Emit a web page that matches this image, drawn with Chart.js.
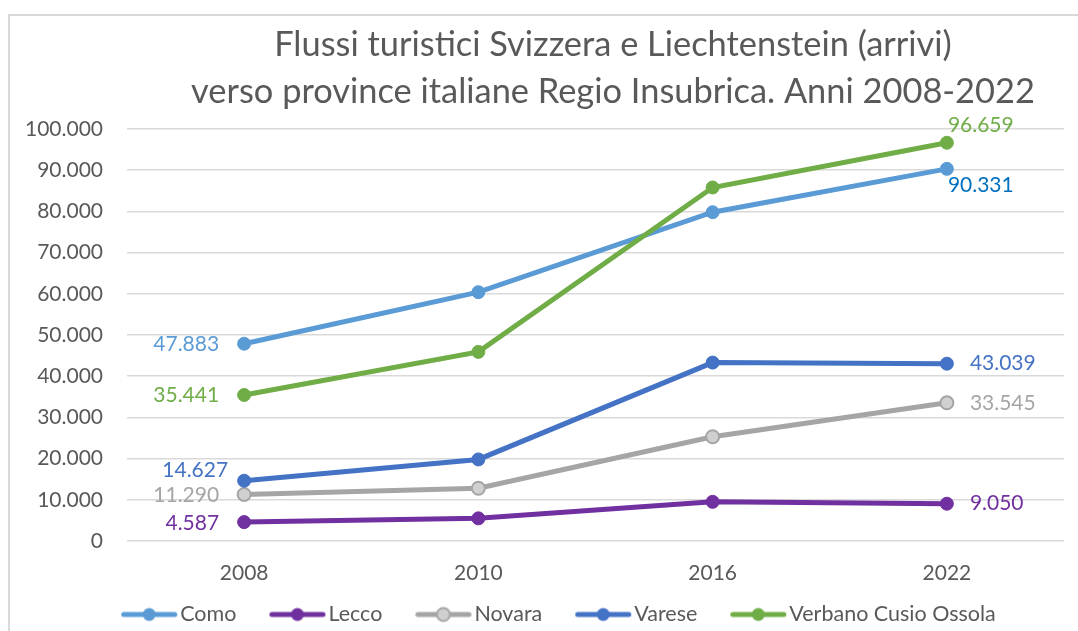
<!DOCTYPE html>
<html>
<head>
<meta charset="utf-8">
<script src="https://cdn.jsdelivr.net/npm/chart.js@4/dist/chart.umd.min.js"></script>
<style>
  html, body { margin: 0; padding: 0; background: #ffffff; }
  #wrap { position: relative; width: 1078px; height: 631px; overflow: hidden; }
  #frame { position: absolute; left: 8px; top: 14px; width: 1200px; height: 800px;
           border-left: 2px solid #D9D9D9; border-top: 2px solid #D9D9D9; }
  canvas { position: absolute; left: 0; top: 0; }
</style>
</head>
<body>
<div id="wrap">
  <div id="frame"></div>
  <canvas id="c" width="1078" height="631"></canvas>
</div>
<script>
// ---- Data ----
const categories = ['2008', '2010', '2016', '2022'];
const seriesNames = ['Como', 'Lecco', 'Novara', 'Varese', 'Verbano Cusio Ossola'];
const como    = [47883, 60400, 79800, 90331];
const lecco   = [4587, 5500, 9500, 9050];
const novara  = [11290, 12800, 25300, 33545];
const varese  = [14627, 19800, 43300, 43039];
const verbano = [35441, 45900, 85800, 96659];
const yMin = 0, yMax = 100000, yStep = 10000;
const titleLines = ['Flussi turistici Svizzera e Liechtenstein (arrivi)',
                    'verso province italiane Regio Insubrica. Anni 2008-2022'];

// ---- Styles ----
const FONT = 'Lato, "Open Sans", sans-serif';
const TEXT = '#595959';
const colors = ['#5B9BD5', '#7030A0', '#A5A5A5', '#4472C4', '#70AD47'];
const pointFills = ['#5B9BD5', '#7030A0', '#D0D0D0', '#4472C4', '#70AD47'];

function fmt(v) {
  return String(Math.round(v)).replace(/\B(?=(\d{3})+(?!\d))/g, '.');
}

// label placement (style only): dataset index -> list of [pointIndex, dx, dy, align, color]
const labelStyle = {
  0: [[0, -25, 1, 'right', '#5B9BD5'], [3, 1, 16, 'left', '#0070C0']],
  1: [[0, -25, 1, 'right', '#7030A0'], [3, 23, 0, 'left', '#7030A0']],
  2: [[0, -25, 1, 'right', '#A5A5A5'], [3, 23, 0, 'left', '#A5A5A5']],
  3: [[0, -16, -11, 'right', '#4472C4'], [3, 23, 0, 'left', '#4472C4']],
  4: [[0, -25, 0, 'right', '#70AD47'], [3, 1, -18, 'left', '#70AD47']]
};

function legendIcon(color, fill, border) {
  const cv = document.createElement('canvas');
  cv.width = 62; cv.height = 18;
  const g = cv.getContext('2d');
  g.strokeStyle = color; g.lineWidth = 5; g.lineCap = 'round';
  g.beginPath(); g.moveTo(5.5, 9); g.lineTo(56.5, 9); g.stroke();
  g.beginPath(); g.arc(31, 9, 6.5, 0, Math.PI * 2);
  g.fillStyle = fill; g.fill();
  if (border) { g.lineWidth = 2; g.strokeStyle = color; g.stroke(); }
  return cv;
}

const dataArrays = [como, lecco, novara, varese, verbano];
const datasets = dataArrays.map((arr, i) => ({
  label: seriesNames[i],
  data: arr,
  borderColor: colors[i],
  backgroundColor: pointFills[i],
  pointBackgroundColor: pointFills[i],
  pointBorderColor: colors[i],
  pointBorderWidth: i === 2 ? 2 : 1,
  borderWidth: 5,
  pointRadius: 6.5,
  pointHoverRadius: 6.5,
  tension: 0,
  order: 5 - i
}));

const dataLabels = {
  id: 'dataLabels',
  afterDatasetsDraw(chart) {
    const ctx = chart.ctx;
    ctx.save();
    ctx.font = '21px ' + FONT;
    ctx.textBaseline = 'middle';
    Object.keys(labelStyle).forEach(di => {
      const meta = chart.getDatasetMeta(+di);
      labelStyle[di].forEach(([pi, dx, dy, align, col]) => {
        const pt = meta.data[pi];
        ctx.fillStyle = col;
        ctx.textAlign = align;
        ctx.fillText(fmt(chart.data.datasets[di].data[pi]), pt.x + dx, pt.y + dy);
      });
    });
    ctx.restore();
  }
};

const LEGEND_PAD = 40.75;
const placeBlocks = {
  id: 'placeBlocks',
  afterLayout(chart) {
    const t = chart.titleBlock;
    if (t) { t.left = 148; t.right = 1078; }
    const l = chart.legend;
    if (l) { l.left = 46.75; l.right = 1078; l.top = 563; l.bottom = 631; }
  }
};

new Chart(document.getElementById('c'), {
  type: 'line',
  data: { labels: categories, datasets },
  plugins: [dataLabels, placeBlocks],
  options: {
    responsive: false,
    animation: false,
    layout: { padding: { left: 0, right: 14, top: 0, bottom: 0 } },
    plugins: {
      tooltip: { enabled: false },
      title: {
        display: true,
        text: titleLines,
        color: TEXT,
        font: { family: FONT, size: 34.4, weight: 'normal', lineHeight: '47px' },
        padding: { top: 21.8, bottom: 13.2 }
      },
      legend: {
        display: true,
        position: 'bottom',
        maxHeight: 40,
        labels: {
          color: TEXT,
          font: { family: FONT, size: 21.5 },
          usePointStyle: true,
          pointStyleWidth: 40.5,
          padding: LEGEND_PAD,
          generateLabels(chart) {
            return chart.data.datasets.map((ds, i) => ({
              text: ds.label,
              pointStyle: legendIcon(colors[i], pointFills[i], i === 2),
              fillStyle: colors[i],
              strokeStyle: colors[i],
              lineWidth: 0,
              fontColor: TEXT,
              hidden: false,
              datasetIndex: i
            }));
          }
        }
      }
    },
    scales: {
      x: {
        type: 'category',
        offset: true,
        grid: { display: false, drawTicks: false },
        border: { display: false },
        ticks: { color: TEXT, font: { family: FONT, size: 21 }, padding: 19.7, maxRotation: 0 },
        afterFit(scale) { scale.height = 50; }
      },
      y: {
        min: yMin, max: yMax,
        grid: { color: '#D9D9D9', lineWidth: 1.5, drawTicks: false },
        border: { display: false },
        ticks: {
          stepSize: yStep,
          color: TEXT,
          font: { family: FONT, size: 21 },
          padding: 24,
          callback: v => fmt(v)
        },
        afterFit(scale) { scale.width = 127; }
      }
    }
  }
});
</script>
</body>
</html>
